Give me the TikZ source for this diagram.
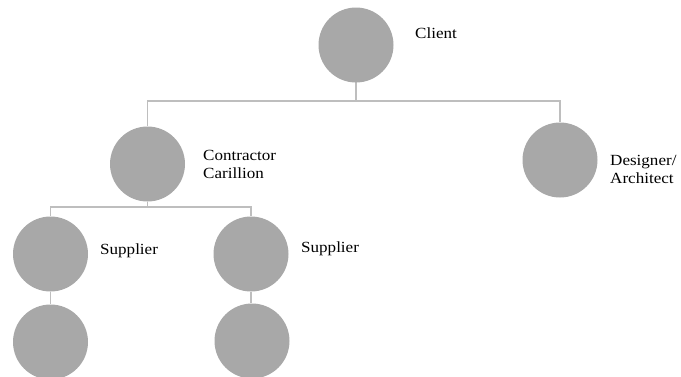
\documentclass[tikz,border=0pt]{standalone}
\usepackage{fontspec}
\setmainfont{Liberation Serif}[FakeStretch=1.1]
\definecolor{circfill}{RGB}{168,168,168}
\definecolor{linecol}{RGB}{190,190,190}
\tikzset{
  party/.style={circle,fill=circfill,minimum size=75pt,inner sep=0pt},
  lbl/.style={anchor=west,align=left,font=\fontsize{15.5}{18}\selectfont,inner sep=0pt},
  conn/.style={draw=linecol,line width=1.6pt}
}
\begin{document}
\begin{tikzpicture}[x=1pt,y=-1pt]
\useasboundingbox (0,0) rectangle (681,376);
\draw[conn] (356,45) coordinate (cc) -- (356,101) coordinate (j1);
\node[party] (client) at (cc) {};
\node[party] (contr) at (147.5,164) {};
\node[party] (des) at (560,160) {};
\node[party] (sup1) at (50.5,254) {};
\node[party] (sup2) at (251,254) {};
\node[party] (sub1) at (50.5,342) {};
\node[party] (sub2) at (252,341) {};
\coordinate (j2) at (147.5,207);
\node[lbl] (tclient) at (415,33) {Client};
\node[lbl] (tcontr) at (203,164) {Contractor\\Carillion};
\node[lbl] (tdes) at (610,169) {Designer/\\Architect};
\node[lbl] (tsup1) at (100,251) {Supplier};
\node[lbl] (tsup2) at (301,249) {Supplier};
\draw[conn] (contr.north) |- (j1) -| (des.north);
\draw[conn] (contr.south) -- (j2);
\draw[conn] (sup1.north) |- (j2) -| (sup2.north);
\draw[conn] (sup1.south) -- (sub1.north);
\draw[conn] (sup2.south) -- (sup2.south |- sub2.north);
\end{tikzpicture}
\end{document}
